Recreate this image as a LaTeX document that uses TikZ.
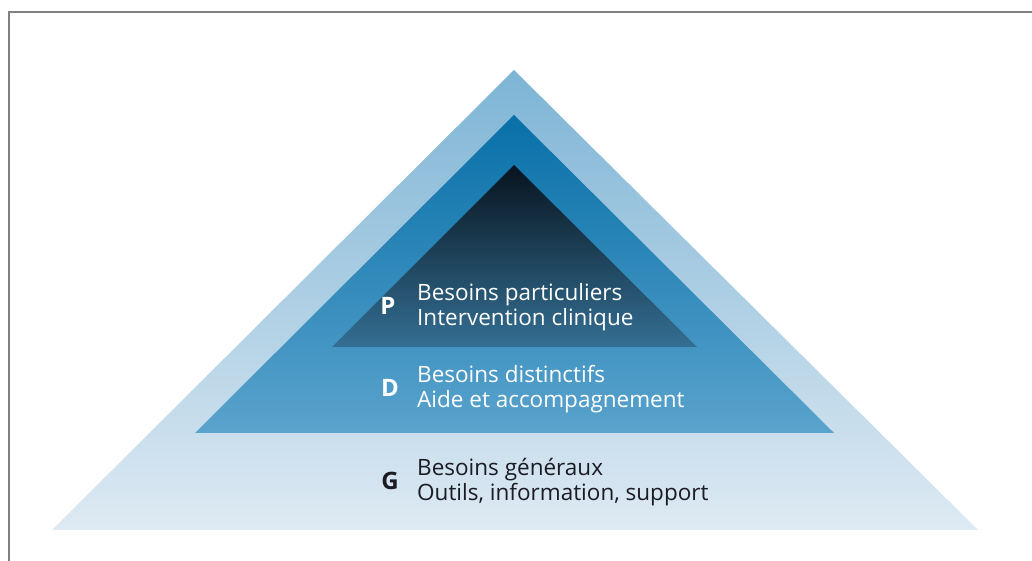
\documentclass[tikz,border=0pt]{standalone}
\usepackage{fontspec}
\newfontfamily\pyrfont{Open Sans}
\usepackage{tikz}
\usetikzlibrary{positioning}

\definecolor{outerTop}{HTML}{7DB4D5}
\definecolor{outerBot}{HTML}{DEEAF3}
\definecolor{midTop}{HTML}{0870A8}
\definecolor{midBot}{HTML}{5AA3CD}
\definecolor{innerTop}{HTML}{08141F}
\definecolor{innerBot}{HTML}{346F93}
\definecolor{darktext}{HTML}{1B1B24}

\tikzset{x=1pt, y=1pt,
    level letter/.style={font=\pyrfont\bfseries\fontsize{24}{28}\selectfont, inner sep=0pt},
    level text/.style={font=\pyrfont\fontsize{22.5}{25}\selectfont, align=left, anchor=west, inner sep=0pt},
    }

\begin{document}
\begin{tikzpicture}
	\useasboundingbox (0,0) rectangle (1032,561);
	% frame
	\draw[line width=2pt, gray] (8.5,0) -- (8.5,549) -- (1032,549);
	% three levels, bottom one first
	\shade[top color=outerTop, bottom color=outerBot] (52,31) -- (514,491) -- (978,31) -- cycle;
	\shade[top color=midTop, bottom color=midBot] (195,128) -- (514,446) -- (834,128) -- cycle;
	\shade[top color=innerTop, bottom color=innerBot] (332,214) -- (514,396) -- (697,214) -- cycle;
	% labels
	\node[level letter, white] (P) at (388,255) {P};
	\node[level text, white] (Ptext) at (417,254) {Besoins particuliers\\Intervention clinique};
	\node[level letter, white] (D) at (390,173) {D};
	\node[level text, white] (Dtext) at (417,172) {Besoins distinctifs\\Aide et accompagnement};
	\node[level letter, darktext] (G) at (390,80) {G};
	\node[level text, darktext] (Gtext) at (417,79) {Besoins généraux\\Outils, information, support};
\end{tikzpicture}
\end{document}
